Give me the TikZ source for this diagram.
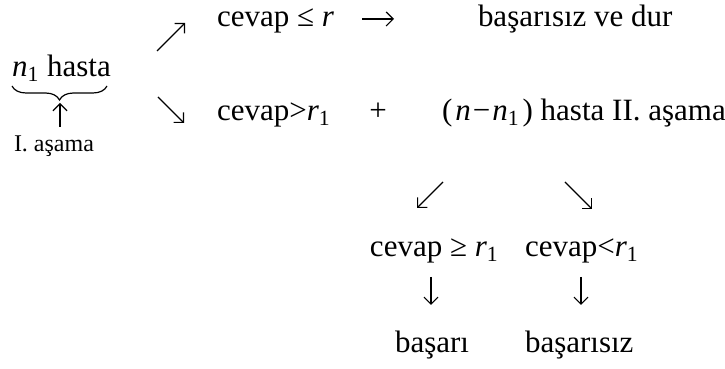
\documentclass[tikz,border=0pt]{standalone}
\usepackage{fontspec}
\setmainfont{Liberation Serif}
\usetikzlibrary{arrows.meta,decorations.pathreplacing}
\tikzset{
  txt/.style={inner sep=0pt, outer sep=0pt, anchor=base west, font=\fontsize{15.5}{18}\selectfont},
  smalltxt/.style={txt, font=\fontsize{12}{14}\selectfont},
  arr/.style={line width=0.6pt, -{Straight Barb[length=3.5pt,width=7pt]}},
  brc/.style={line width=0.6pt, decorate, decoration={brace, mirror, amplitude=7pt}}
}
\newcommand{\mi}[1]{\textit{#1}}
\newcommand{\sbone}{\textsubscript{1}}
\begin{document}
\begin{tikzpicture}[x=0.5pt, y=-0.5pt]
\useasboundingbox (0,0) rectangle (725,369);
% left part
\node[txt] (nh) at (12,77) {\mi{n}\sbone{} hasta};
\coordinate (brL) at (12,86);
\coordinate (brR) at (107,86);
\draw[brc] (brL) -- (brR);
\coordinate (upS) at (60,127);
\coordinate (upE) at (60,103);
\draw[arr] (upS) -- (upE);
\node[smalltxt] (ia) at (14,152) {I. aşama};
% branch arrows
\coordinate (neS) at (157,51);
\coordinate (neE) at (185,23);
\draw[arr] (neS) -- (neE);
\coordinate (seS) at (158,97);
\coordinate (seE) at (184,123);
\draw[arr] (seS) -- (seE);
% row 1
\node[txt] (c1) at (217,27) {cevap ≤ \mi{r}};
\coordinate (rS) at (362,19);
\coordinate (rE) at (394,19);
\draw[arr] (rS) -- (rE);
\node[txt] (b1) at (478,27) {başarısız ve dur};
% row 2
\node[txt] (c2) at (217,121) {cevap>\mi{r}\sbone};
\node[txt, anchor=base] (plus) at (378,121) {+};
\node[txt] (c3) at (442,121) {(\kern1.5pt\mi{n}\kern1pt−\kern1pt\mi{n}\sbone\kern1.5pt) hasta II. aşama};
% stage II split
\coordinate (swS) at (443,182);
\coordinate (swE) at (417,208);
\draw[arr] (swS) -- (swE);
\coordinate (se2S) at (565,182);
\coordinate (se2E) at (592,209);
\draw[arr] (se2S) -- (se2E);
% row 3
\node[txt] (c4) at (370,257) {cevap ≥ \mi{r}\sbone};
\node[txt] (c5) at (525,257) {cevap<\mi{r}\sbone};
\coordinate (d1S) at (431,277);
\coordinate (d1E) at (431,305);
\draw[arr] (d1S) -- (d1E);
\coordinate (d2S) at (581,277);
\coordinate (d2E) at (581,305);
\draw[arr] (d2S) -- (d2E);
% row 4
\node[txt] (b2) at (395,353) {başarı};
\node[txt] (b3) at (525,353) {başarısız};
\end{tikzpicture}
\end{document}
